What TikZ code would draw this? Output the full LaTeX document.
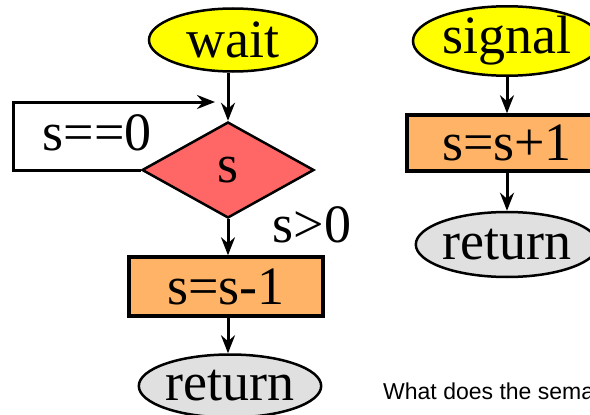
\documentclass[tikz,border=0pt]{standalone}
\usepackage{fontspec}
\setmainfont{Liberation Serif}
\newfontfamily\capsans{Liberation Sans}
\usetikzlibrary{shapes.geometric,arrows.meta}
\definecolor{ylw}{HTML}{FFFF00}
\definecolor{dia}{HTML}{FF6666}
\definecolor{org}{HTML}{FFB366}
\definecolor{gry}{HTML}{E0E0E0}
\begin{document}
\begin{tikzpicture}[x=1pt,y=-1pt,
  big/.style={font=\fontsize{54}{54}\selectfont},
  oval/.style={ellipse,draw,line width=2.5pt,inner sep=0pt,big},
  boxnode/.style={rectangle,draw,line width=3.5pt,fill=org,inner sep=0pt,big},
  arr/.style={line width=3pt,-{Stealth[length=18pt,width=14pt,inset=6pt]}}]
\useasboundingbox (0,0) rectangle (590,415);
\clip (0,0) rectangle (590,415);
% left column
\node[oval,fill=ylw,minimum width=168pt,minimum height=63pt] (wait) at (233,40) {wait};
\node[diamond,draw,line width=2.5pt,fill=dia,inner sep=0pt,minimum width=172pt,minimum height=96pt,big] (dec) at (228,170) {s};
\node[boxnode,minimum width=194pt,minimum height=59pt] (dec1) at (226,286.5) {s=s-1};
\node[oval,fill=gry,minimum width=166pt,minimum height=63pt] (ret1) at (230,386) {return};
\coordinate (loopend) at (215,102);
\draw[arr] (dec.north |- wait.south) -- (dec.north);
\draw[arr] (dec.west) -- ++(-127,0) |- (loopend);
\draw[arr] (dec.south) -- (dec.south |- dec1.north);
\draw[arr] (dec.south |- dec1.south) -- (dec.south |- ret1.north);
\node[big,inner sep=0pt] (lzero) at (97,133) {s==0};
\node[big,inner sep=0pt] (lpos) at (312,225) {s>0};
% right column
\node[oval,fill=ylw,minimum width=188pt,minimum height=62pt] (sig) at (507,41) {signal};
\node[boxnode,minimum width=200pt,minimum height=56pt] (inc) at (507,143) {s=s+1};
\node[oval,fill=gry,minimum width=161pt,minimum height=65pt] (ret2) at (507,244.5) {return};
\draw[arr] (sig.south) -- (inc.north);
\draw[arr] (inc.south) -- (ret2.north);
% caption
\node[anchor=base west,inner sep=0pt,font=\capsans\fontsize{23}{23}\selectfont] (cap) at (383,399) {What does the sema};
\end{tikzpicture}
\end{document}
